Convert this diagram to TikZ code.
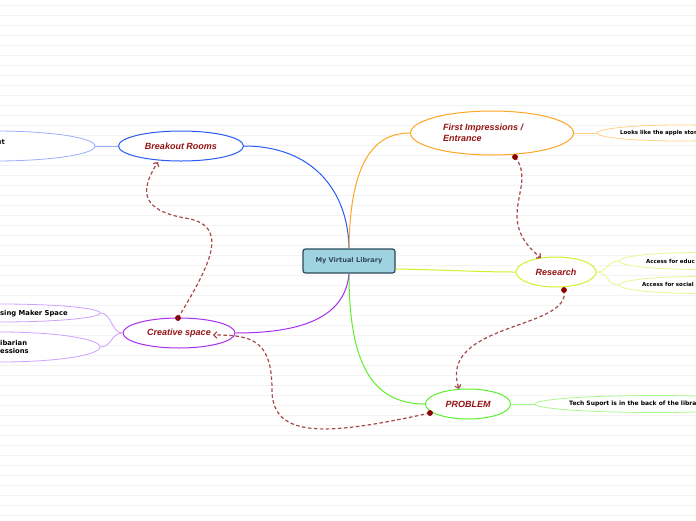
\documentclass[tikz,border=0pt]{standalone}
\usepackage{fontspec}
\setmainfont{Liberation Sans}
\newfontfamily\vfont{DejaVu Sans}
\usetikzlibrary{shapes.geometric,arrows.meta}
\definecolor{titlered}{HTML}{941414}
\definecolor{linkred}{HTML}{A84848}
\definecolor{dotred}{HTML}{8B0000}
\definecolor{blueC}{HTML}{2A5CF5}
\definecolor{blueL}{HTML}{9AB0FF}
\definecolor{orangeC}{HTML}{FFA526}
\definecolor{orangeL}{HTML}{FFD28A}
\definecolor{yellowC}{HTML}{D2F02A}
\definecolor{yellowL}{HTML}{E6F890}
\definecolor{greenC}{HTML}{5CF02A}
\definecolor{greenL}{HTML}{A8F890}
\definecolor{purpleC}{HTML}{A830F0}
\definecolor{purpleL}{HTML}{D0A0FF}
\definecolor{centerfill}{HTML}{9FD3DF}
\definecolor{centerline}{HTML}{2B4A5C}
\definecolor{centertext}{HTML}{34495E}
\definecolor{paperline}{HTML}{F3F3F3}
\tikzset{
  topic/.style={ellipse, draw, line width=1pt, inner sep=0pt, fill=white,
    font=\fontsize{9}{10.5}\selectfont\bfseries\itshape, text=titlered},
  leaf/.style={ellipse, draw, line width=0.8pt, inner sep=0pt, fill=white},
  leaftext/.style={inner sep=0pt, font=\vfont\fontsize{5.5}{7}\selectfont\bfseries, text=black},
  lefttext/.style={inner sep=0pt, font=\vfont\fontsize{6.8}{8.2}\selectfont\bfseries, text=black, align=left},
  branch/.style={line width=1pt},
  twig/.style={line width=0.8pt},
  relation/.style={draw=linkred, line width=1.2pt, dash pattern=on 3.5pt off 2.5pt,
    -{Straight Barb[length=3pt,width=6.5pt,line width=1.2pt]}},
  startdot/.style={circle, fill=dotred, inner sep=0pt, minimum size=5.5pt}
}
\begin{document}
\begin{tikzpicture}[x=1pt,y=-1pt]
\useasboundingbox (0,0) rectangle (696,520);
\fill[white] (0,0) rectangle (696,520);
\foreach \k in {0,...,51} {
  \draw[paperline, line width=0.7pt] (0,5+10*\k) -- (696,5+10*\k);
}

\node[draw=centerline, fill=centerfill, line width=1.2pt, rounded corners=2.5pt,
  minimum width=92pt, minimum height=24pt, inner sep=0pt,
  font=\vfont\fontsize{6.6}{7.5}\selectfont\bfseries, text=centertext] (c) at (349,261) {My Virtual Library};

\node[topic, draw=blueC, minimum width=125pt, minimum height=30pt] (br) at (181,146) {Breakout Rooms};
\node[topic, draw=orangeC, minimum width=163pt, minimum height=44pt] (fi) at (492,133) {};
\node[inner sep=0pt, font=\fontsize{9}{10.5}\selectfont\bfseries\itshape, text=titlered, align=left, anchor=west] (fil) at (443,133) {First Impressions /\\Entrance};
\node[topic, draw=yellowC, minimum width=80pt, minimum height=30pt] (re) at (556,272) {Research};
\node[topic, draw=greenC, minimum width=85pt, minimum height=30pt] (pr) at (468,404) {PROBLEM};
\node[topic, draw=purpleC, minimum width=112pt, minimum height=30pt] (cs) at (179,333) {Creative space};

% leaves
\node[leaf, draw=blueL, minimum width=200pt, minimum height=30pt] (bc) at (-5,146) {};
\node[lefttext, anchor=east] (bct) at (5,142) {ut};
\node[leaf, draw=orangeL, minimum width=166pt, minimum height=16pt] (ap) at (680,133) {};
\node[leaftext, anchor=west] (apt) at (620,133) {Looks like the apple stor};
\node[leaf, draw=yellowL, minimum width=160pt, minimum height=17pt] (a1) at (699,261) {};
\node[leaftext, anchor=west] (a1t) at (646,261) {Access for educ};
\node[leaf, draw=yellowL, minimum width=160pt, minimum height=17pt] (a2) at (699,285) {};
\node[leaftext, anchor=west] (a2t) at (642,285) {Access for social p};
\node[leaf, draw=greenL, minimum width=240pt, minimum height=17pt] (ts) at (655,404) {};
\node[leaftext, font=\vfont\fontsize{6}{7}\selectfont\bfseries, anchor=west] (tst) at (569,404) {Tech Suport is in the back of the librar};
\node[leaf, draw=purpleL, minimum width=200pt, minimum height=18pt] (m1) at (0,313) {};
\node[lefttext, anchor=west] (m1t) at (0,314) {sing Maker Space};
\node[leaf, draw=purpleL, minimum width=200pt, minimum height=30pt] (m2) at (0,347) {};
\node[lefttext, anchor=west] (m2t) at (0,347) {ibarian\\essions};

% main branches
\draw[branch, blueC] (c.north) .. controls (348,190) and (312,146) .. (br.east);
\draw[branch, orangeC] (c.north) .. controls (350,165) and (372,133) .. (fi.west);
\draw[branch, yellowC] ([yshift=-8pt]c.east) .. controls (450,270) and (480,272) .. (re.west);
\draw[branch, greenC] (c.south) .. controls (349,360) and (370,404) .. (pr.west);
\draw[branch, purpleC] (c.south) .. controls (345,322) and (292,333) .. (cs.east);

% leaf twigs
\draw[twig, blueL] (br.west) -- (bc.east);
\draw[twig, orangeL] (fi.east) -- (ap.west);
\draw[twig, yellowL] (re.east) .. controls (608,272) and (607,261) .. (a1.west);
\draw[twig, yellowL] (re.east) .. controls (608,272) and (607,285) .. (a2.west);
\draw[twig, greenL] (pr.east) -- (ts.west);
\draw[twig, purpleL] (cs.west) .. controls (111,333) and (112,313) .. (m1.east);
\draw[twig, purpleL] (cs.west) .. controls (111,333) and (112,347) .. (m2.east);

% relations
\node[startdot] (d1) at (178,318) {};
\coordinate (e1) at (158,162);
\draw[relation] (d1.center) .. controls (212,262) and (230,225) .. (185,218) .. controls (140,210) and (140,190) .. (e1);
\node[startdot] (d2) at (564,290) {};
\coordinate (e2) at (459,389);
\draw[relation] (d2.center) .. controls (572,330) and (438,322) .. (e2);
\node[startdot] (d3) at (515,157) {};
\coordinate (e3) at (541,258);
\draw[relation] (d3.center) .. controls (538,186) and (492,218) .. (e3);
\node[startdot] (d4) at (430,413) {};
\coordinate (e4) at (213,335);
\draw[relation] (d4.center) .. controls (330,435) and (272,440) .. (272,390) .. controls (272,340) and (252,335) .. (e4);
\node[startdot] at (178,318) {};
\node[startdot] at (564,290) {};
\node[startdot] at (515,157) {};
\node[startdot] at (430,413) {};
\end{tikzpicture}
\end{document}
